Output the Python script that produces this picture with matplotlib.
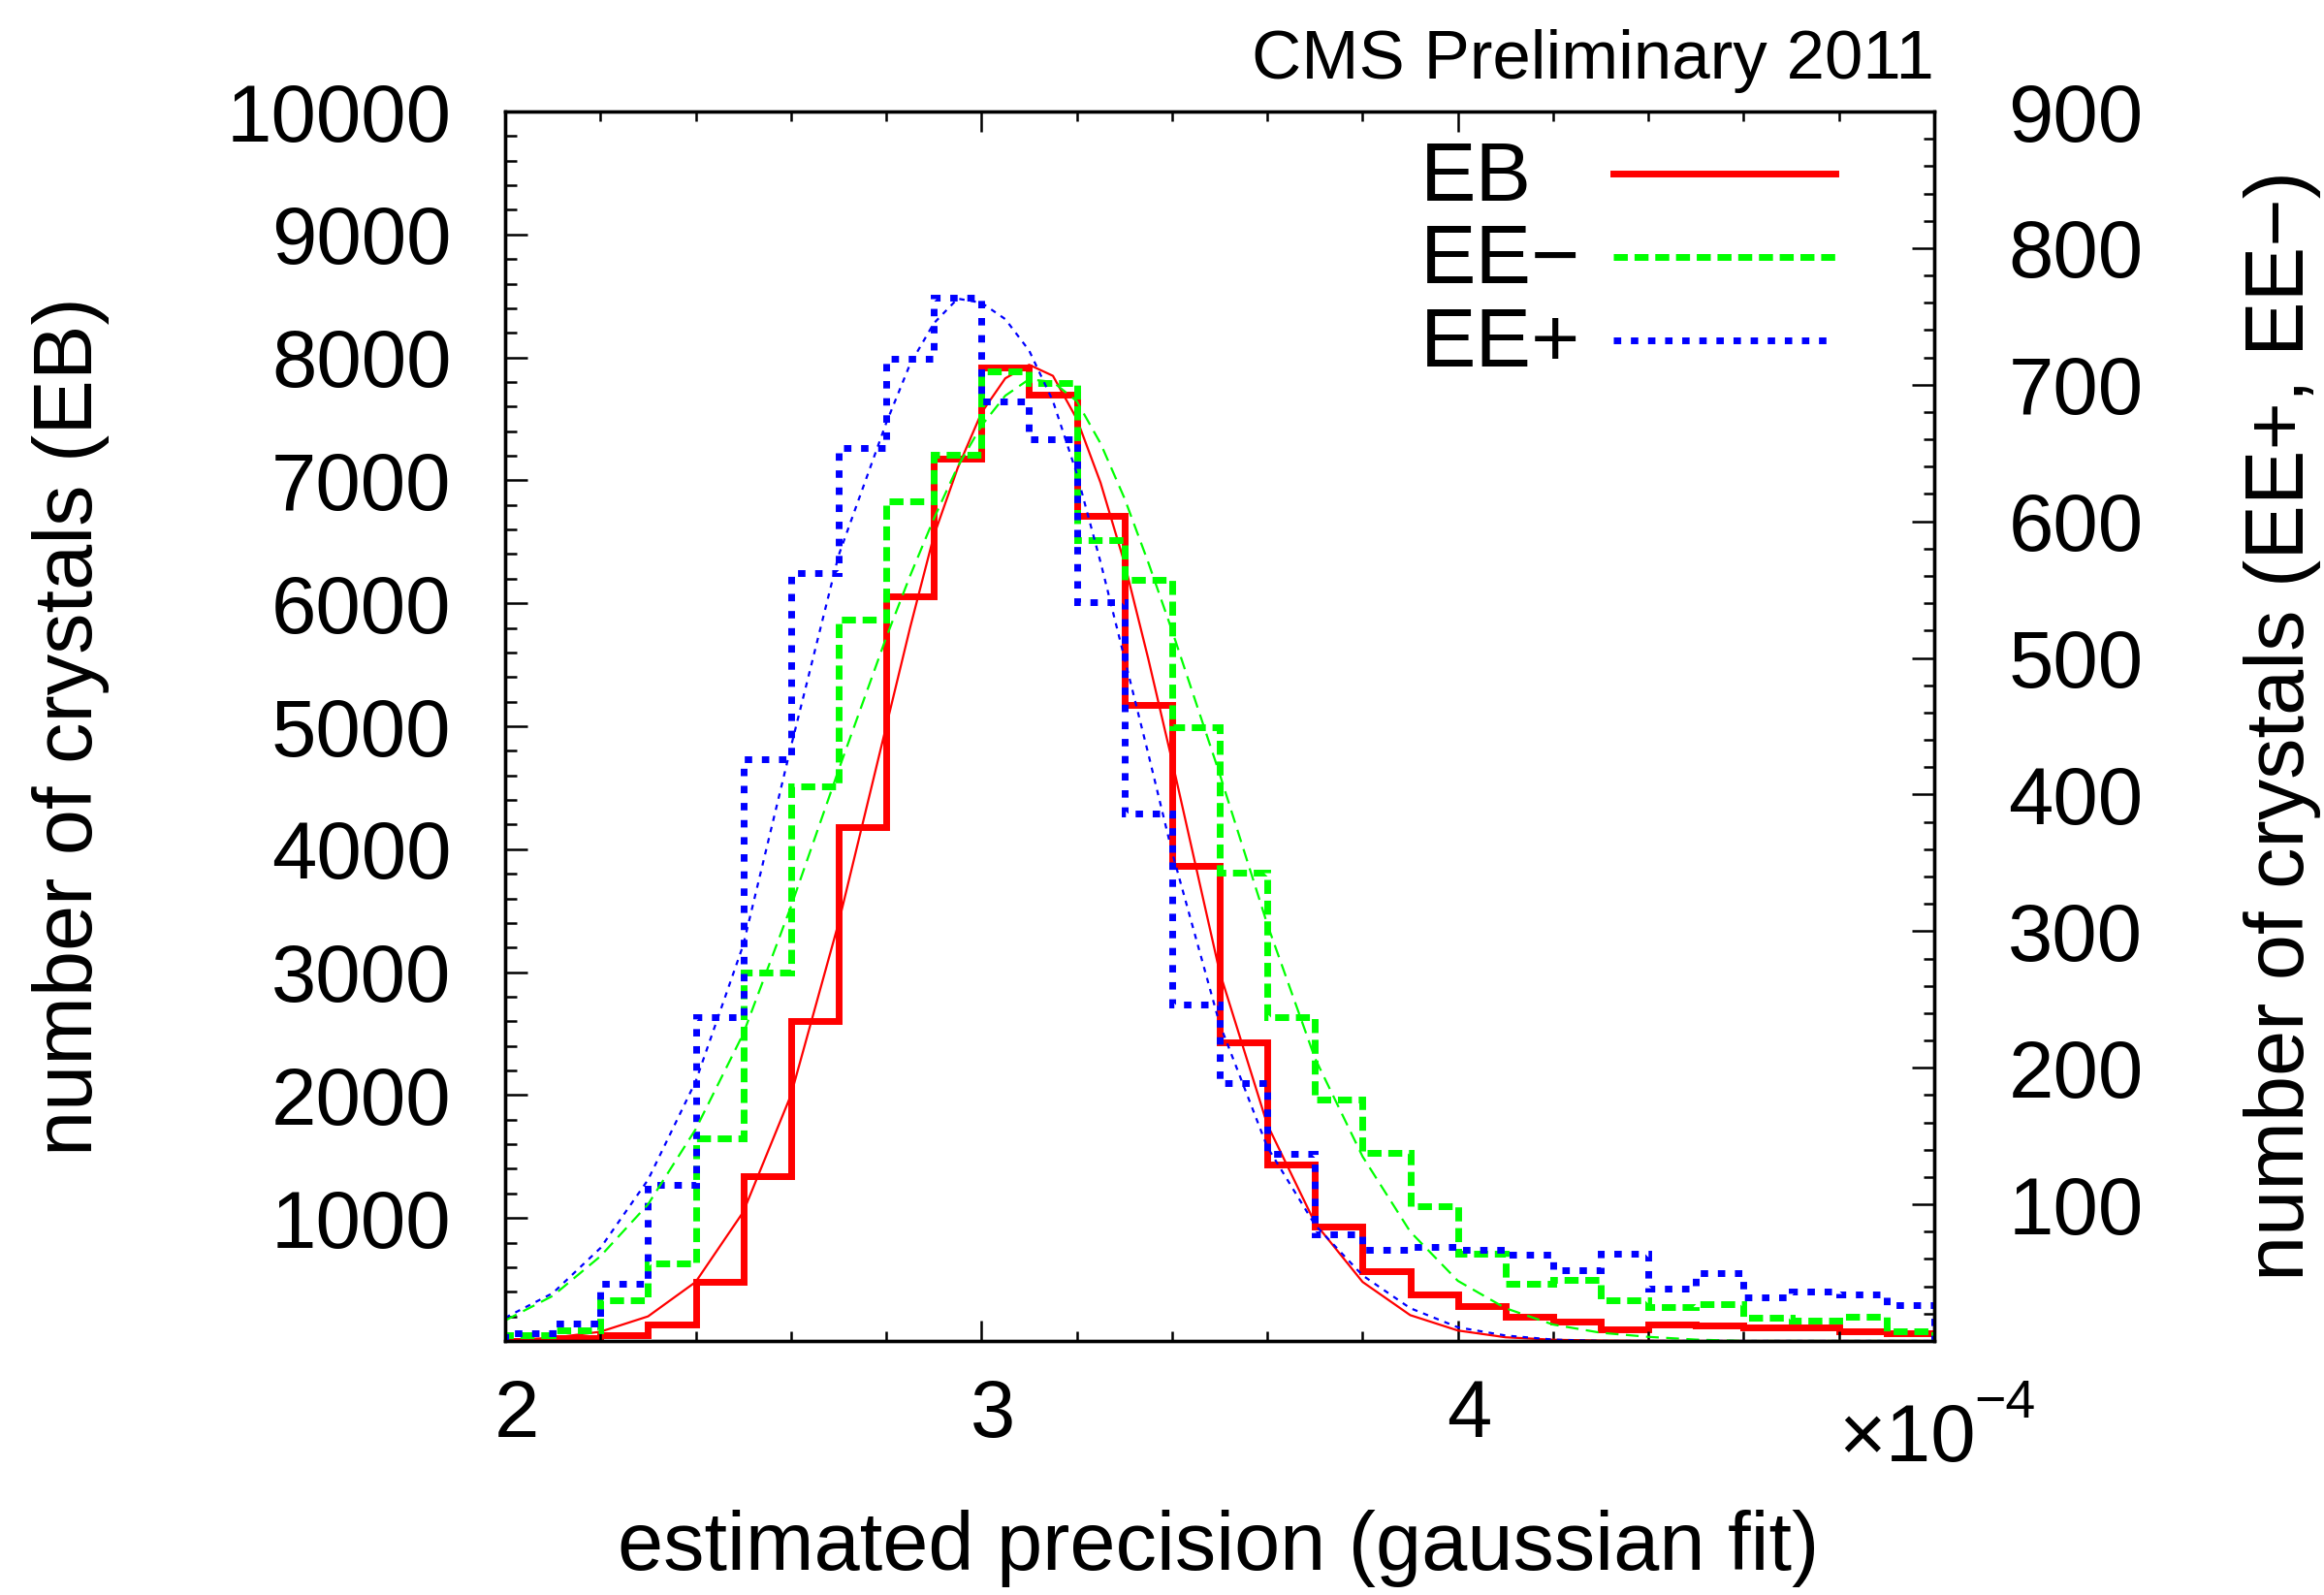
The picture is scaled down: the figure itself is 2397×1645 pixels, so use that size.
import numpy as np
import matplotlib.pyplot as plt
from matplotlib.lines import Line2D
from matplotlib.ticker import MultipleLocator
from matplotlib.transforms import ScaledTranslation

plt.rcParams['font.family'] = ['Liberation Sans', 'DejaVu Sans']
plt.rcParams['lines.scale_dashes'] = False

# histogram binning (precision in units of 1e-4)
bin_edges = np.linspace(2.0, 5.0, 31)

# EB counts (left axis)
eb_counts = [0, 20, 45, 135, 485, 1340, 2605, 4180, 6060, 7180,
             7920, 7695, 6710, 5175, 3865, 2428, 1435, 930, 565, 378,
             280, 197, 155, 96, 138, 124, 110, 110, 79, 67]
# EE- counts (right axis)
eem_counts = [4, 8, 30, 57, 148, 270, 406, 528, 615, 649,
              710, 701, 586, 557, 449, 343, 237, 177, 138, 99,
              64, 42, 45, 30, 25, 27, 17, 15, 18, 7]
# EE+ counts (right axis)
eep_counts = [6, 13, 42, 114, 237, 426, 562, 654, 719, 764,
              688, 660, 541, 386, 246, 189, 137, 78, 67, 69,
              67, 63, 52, 64, 38, 50, 32, 36, 34, 26]

# gaussian fit curves
fit_x = [2.0, 2.1, 2.2, 2.3, 2.4, 2.5, 2.6, 2.7, 2.8, 2.85, 2.9, 2.95, 3.0,
         3.05, 3.1, 3.15, 3.2, 3.25, 3.3, 3.35, 3.4, 3.5, 3.6, 3.7, 3.8, 3.9,
         4.0, 4.1, 4.2, 4.3, 4.4, 4.5, 4.6, 4.8, 5.0]
eb_fit = [8, 25, 75, 200, 480, 1050, 2000, 3400, 5000, 5800, 6550, 7100, 7550,
          7830, 7940, 7850, 7500, 6980, 6330, 5550, 4720, 3000, 1760, 960, 480, 210,
          85, 30, 10, 3, 1, 0, 0, 0, 0]
eem_fit = [15, 33, 62, 100, 155, 225, 318, 418, 515, 560, 602, 640, 670,
           692, 704, 702, 688, 657, 617, 570, 520, 415, 305, 207, 135, 80,
           44, 24, 12, 6, 3, 1, 0, 0, 0]
eep_fit = [17, 35, 68, 118, 190, 290, 435, 575, 672, 715, 745, 763, 760,
           748, 725, 688, 635, 570, 500, 430, 358, 232, 142, 85, 48, 24,
           10, 4, 1, 0, 0, 0, 0, 0, 0]

series_labels = ['EB', 'EE\u2212', 'EE+']
series_colors = ['#ff0000', '#00ff00', '#0000ff']
green_dash = (0, (10.4, 5.0))
blue_dot = (0, (5.5, 7.2))
series_styles = ['-', green_dash, blue_dot]

fig = plt.figure(figsize=(23.97, 16.45), dpi=100)
ax = fig.add_axes([0.21735, 0.15927, 0.61494, 0.77082])
ax2 = ax.twinx()

# histograms
ax.stairs(eb_counts, bin_edges, color=series_colors[0], lw=5)
ax2.stairs(eem_counts, bin_edges, color=series_colors[1], lw=5, linestyle=green_dash)
ax2.stairs(eep_counts, bin_edges, color=series_colors[2], lw=5, linestyle=blue_dot)

# fits
ax.plot(fit_x, eb_fit, color=series_colors[0], lw=1.6)
ax2.plot(fit_x, eem_fit, color=series_colors[1], lw=1.6, linestyle=(0, (9.5, 5.5)))
ax2.plot(fit_x, eep_fit, color=series_colors[2], lw=1.6, linestyle=(0, (4.0, 4.5)))

ax.set_xlim(2.0, 5.0)
ax.set_ylim(0, 10000)
ax2.set_ylim(0, 900)

ax.set_xticks([2, 3, 4])
ax.set_xticklabels(['2', '3', '4'])
ax.xaxis.set_minor_locator(MultipleLocator(0.2))

left_ticks = np.arange(0, 10001, 1000)
ax.set_yticks(left_ticks)
ax.set_yticklabels(['' if v == 0 else str(v) for v in left_ticks])
ax.yaxis.set_minor_locator(MultipleLocator(200))

right_ticks = np.arange(0, 901, 100)
ax2.set_yticks(right_ticks)
ax2.set_yticklabels(['' if v == 0 else str(v) for v in right_ticks])
ax2.yaxis.set_minor_locator(MultipleLocator(20))

ax.tick_params(axis='x', which='both', direction='in', top=True, bottom=True,
               labelsize=60, pad=27, width=1.8)
ax.tick_params(axis='x', which='major', length=15)
ax.tick_params(axis='x', which='minor', length=7)
ax.tick_params(axis='y', which='both', direction='in', left=True, right=False,
               labelsize=60, pad=40, width=1.8)
ax.tick_params(axis='y', which='major', length=16.5)
ax.tick_params(axis='y', which='minor', length=8.5)
ax2.tick_params(axis='y', which='both', direction='in', labelsize=60, pad=55, width=1.8)
ax2.tick_params(axis='y', which='major', length=16.5)
ax2.tick_params(axis='y', which='minor', length=8)

for a in (ax, ax2):
    for sp in a.spines.values():
        sp.set_linewidth(2.4)

shift = ScaledTranslation(0.12, 0, fig.dpi_scale_trans)
for lbl in ax.get_xticklabels():
    lbl.set_transform(lbl.get_transform() + shift)

# exponent of the x axis
fig.text(1896 / 2397, 1 - 1507 / 1645, '\u00d710', fontsize=60, ha='left', va='baseline')
fig.text(2036 / 2397, 1 - 1462 / 1645, '\u22124', fontsize=40, ha='left', va='baseline')

fig.text(0.5244, 0.0292, 'estimated precision (gaussian fit)', fontsize=61,
         ha='center', va='center')
fig.text(0.0305, 0.5447, 'number of crystals (EB)', fontsize=61,
         rotation=90, ha='center', va='center')
fig.text(0.982, 0.5447, 'number of crystals (EE+, EE\u2212)', fontsize=61,
         rotation=90, ha='center', va='center')
fig.text(0.8323, 0.9617, 'CMS Preliminary 2011', fontsize=51, ha='right', va='center')

# legend: label on the left, line sample on the right
legend_text_y = [0.9274, 0.8604, 0.7926]
legend_line_y = [0.9495, 0.8817, 0.8139]
for lab, col, sty, ty, ly in zip(series_labels, series_colors, series_styles,
                                 legend_text_y, legend_line_y):
    ax2.text(0.6404, ty, lab, transform=ax2.transAxes, fontsize=62,
             ha='left', va='baseline')
    ax2.add_line(Line2D([0.7754, 0.9308], [ly, ly], transform=ax2.transAxes,
                        color=col, lw=5, linestyle=sty))

fig.savefig('out.png', dpi=100)
